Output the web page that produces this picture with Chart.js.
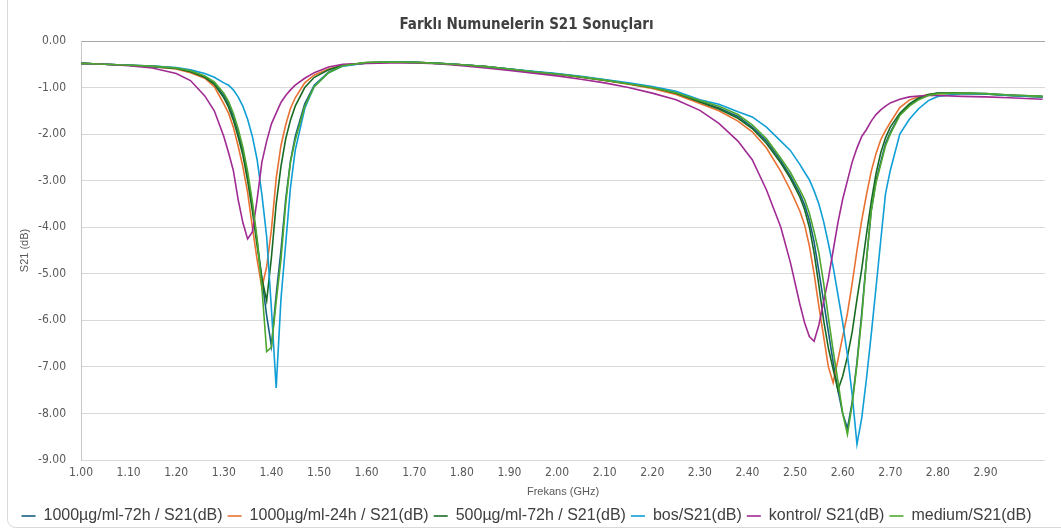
<!DOCTYPE html>
<html>
<head>
<meta charset="utf-8">
<script src="https://cdn.jsdelivr.net/npm/chart.js@4.4.1/dist/chart.umd.min.js"></script>
<style>
  html, body { margin: 0; padding: 0; background: #fff; }
  #wrap { width: 1061px; height: 531px; }
</style>
</head>
<body>
<div id="wrap"><canvas id="s21Chart" width="1061" height="531"></canvas></div>
<script>
// Frekans noktaları (GHz) - tüm seriler için ortak
const freq = [
  1.00, 1.05, 1.10, 1.15, 1.20, 1.23, 1.26, 1.28,
  1.30, 1.31, 1.32, 1.33, 1.34, 1.35, 1.36, 1.37, 1.38, 1.39, 1.40, 1.41, 1.42, 1.43, 1.44, 1.45,
  1.47, 1.49, 1.52, 1.55,
  1.60, 1.65, 1.70, 1.75, 1.80, 1.85, 1.90, 1.95, 2.00, 2.05, 2.10, 2.15, 2.20, 2.25, 2.30,
  2.34, 2.38, 2.41, 2.44, 2.47, 2.49,
  2.51, 2.52, 2.53, 2.54, 2.55, 2.56, 2.57, 2.58, 2.59, 2.60, 2.61, 2.62, 2.63, 2.64, 2.65, 2.66, 2.67, 2.68, 2.69, 2.70,
  2.72, 2.74, 2.76, 2.78, 2.80,
  2.85, 2.90, 2.95, 3.02
];

// S21 (dB) değerleri
const s21_1000_72h = [
  -0.48, -0.50, -0.52, -0.54, -0.58, -0.64, -0.76, -0.90,
  -1.17, -1.36, -1.62, -1.96, -2.36, -2.90, -3.55, -4.30, -5.10, -5.90, -6.55, -5.45, -4.50, -3.40, -2.58, -2.05,
  -1.35, -0.95, -0.67, -0.53,
  -0.47, -0.45, -0.46, -0.48, -0.51, -0.55, -0.60, -0.66, -0.71, -0.77, -0.84, -0.92, -1.00, -1.12, -1.30,
  -1.44, -1.62, -1.85, -2.15, -2.57, -2.90,
  -3.28, -3.52, -3.85, -4.32, -4.95, -5.60, -6.25, -6.90, -7.50, -8.00, -8.32, -7.75, -6.90, -5.85, -4.70, -3.65, -3.00, -2.60, -2.20, -1.96,
  -1.58, -1.38, -1.24, -1.16, -1.12,
  -1.12, -1.13, -1.16, -1.19
];

const s21_1000_24h = [
  -0.48, -0.50, -0.52, -0.55, -0.60, -0.68, -0.80, -0.98,
  -1.35, -1.55, -1.85, -2.25, -2.70, -3.25, -4.00, -4.70, -5.30, -4.85, -4.05, -2.95, -2.25, -1.80, -1.45, -1.22,
  -0.90, -0.73, -0.60, -0.52,
  -0.47, -0.45, -0.46, -0.48, -0.51, -0.55, -0.61, -0.66, -0.72, -0.78, -0.85, -0.93, -1.02, -1.15, -1.34,
  -1.50, -1.72, -1.95, -2.30, -2.80, -3.20,
  -3.65, -3.95, -4.40, -5.00, -5.70, -6.35, -7.00, -7.34, -6.85, -6.35, -5.85, -5.20, -4.50, -3.85, -3.30, -2.80, -2.42, -2.12, -1.92, -1.75,
  -1.43, -1.27, -1.19, -1.15, -1.13,
  -1.13, -1.14, -1.17, -1.20
];

const s21_500_72h = [
  -0.48, -0.50, -0.52, -0.55, -0.59, -0.66, -0.78, -0.93,
  -1.22, -1.42, -1.70, -2.05, -2.45, -3.00, -3.65, -4.40, -5.10, -5.58, -4.65, -3.50, -2.70, -2.10, -1.70, -1.40,
  -1.00, -0.78, -0.62, -0.52,
  -0.47, -0.45, -0.46, -0.48, -0.51, -0.55, -0.60, -0.66, -0.71, -0.77, -0.84, -0.92, -1.00, -1.12, -1.31,
  -1.46, -1.66, -1.88, -2.20, -2.62, -2.95,
  -3.35, -3.62, -4.00, -4.55, -5.25, -6.00, -6.60, -7.05, -7.50, -7.20, -6.78, -6.25, -5.55, -4.90, -4.15, -3.45, -2.85, -2.40, -2.08, -1.85,
  -1.55, -1.35, -1.22, -1.15, -1.12,
  -1.12, -1.14, -1.17, -1.20
];

const s21_bos = [
  -0.48, -0.50, -0.52, -0.54, -0.57, -0.62, -0.70, -0.78,
  -0.90, -0.95, -1.05, -1.20, -1.40, -1.68, -2.05, -2.55, -3.30, -4.20, -5.75, -7.45, -5.55, -4.35, -3.15, -2.35,
  -1.45, -0.97, -0.68, -0.54,
  -0.47, -0.45, -0.46, -0.48, -0.51, -0.55, -0.60, -0.65, -0.70, -0.76, -0.83, -0.90, -0.98, -1.08, -1.26,
  -1.36, -1.52, -1.63, -1.85, -2.15, -2.35,
  -2.65, -2.82, -2.98, -3.22, -3.50, -3.88, -4.35, -4.85, -5.45, -6.05, -6.75, -7.60, -8.66, -8.10, -7.25, -6.30, -5.30, -4.28, -3.28, -2.78,
  -2.00, -1.68, -1.45, -1.28, -1.19,
  -1.13, -1.14, -1.17, -1.20
];

const s21_kontrol = [
  -0.48, -0.50, -0.53, -0.58, -0.70, -0.85, -1.18, -1.50,
  -2.05, -2.40, -2.78, -3.40, -3.90, -4.25, -4.10, -3.40, -2.60, -2.15, -1.78, -1.55, -1.32, -1.17, -1.05, -0.95,
  -0.80, -0.68, -0.56, -0.50,
  -0.48, -0.47, -0.47, -0.49, -0.53, -0.58, -0.63, -0.69, -0.75, -0.82, -0.90, -1.00, -1.12, -1.26, -1.49,
  -1.77, -2.15, -2.55, -3.20, -4.00, -4.75,
  -5.65, -6.05, -6.35, -6.45, -6.10, -5.60, -5.10, -4.50, -3.90, -3.40, -3.00, -2.60, -2.30, -2.05, -1.90, -1.72, -1.58, -1.48, -1.40, -1.33,
  -1.25, -1.20, -1.18, -1.17, -1.17,
  -1.19, -1.20, -1.22, -1.25
];

const s21_medium = [
  -0.48, -0.50, -0.52, -0.54, -0.58, -0.64, -0.75, -0.88,
  -1.12, -1.30, -1.55, -1.88, -2.28, -2.80, -3.45, -4.25, -5.30, -6.67, -6.58, -5.60, -4.70, -3.50, -2.60, -2.13,
  -1.40, -0.98, -0.68, -0.53,
  -0.46, -0.45, -0.46, -0.48, -0.51, -0.55, -0.60, -0.66, -0.71, -0.77, -0.84, -0.92, -1.00, -1.11, -1.28,
  -1.40, -1.58, -1.80, -2.10, -2.52, -2.82,
  -3.20, -3.40, -3.70, -4.10, -4.55, -5.20, -5.94, -6.65, -7.30, -8.00, -8.45, -7.80, -6.95, -5.94, -4.70, -3.65, -3.05, -2.65, -2.25, -2.00,
  -1.60, -1.40, -1.26, -1.17, -1.13,
  -1.12, -1.13, -1.16, -1.19
];

const seriesNames = [
  '1000µg/ml-72h / S21(dB)',
  '1000µg/ml-24h / S21(dB)',
  '500µg/ml-72h / S21(dB)',
  'bos/S21(dB)',
  'kontrol/ S21(dB)',
  'medium/S21(dB)'
];
const seriesValues = [s21_1000_72h, s21_1000_24h, s21_500_72h, s21_bos, s21_kontrol, s21_medium];
const seriesColors = ['#156082', '#E97132', '#196B24', '#0F9ED5', '#A02B93', '#4EA72E'];

const NARROW = "'Liberation Sans Narrow', 'DejaVu Sans Condensed', 'Liberation Sans', sans-serif";
const REGULAR = "'Liberation Sans', Arial, sans-serif";

// dış çerçeve (grafik alanı kenarlığı)
const frame = {
  id: 'frame',
  beforeDraw(chart) {
    const c = chart.ctx;
    c.save();
    c.fillStyle = '#fff';
    c.fillRect(0, 0, chart.width, chart.height);
    c.strokeStyle = '#d9d9d9';
    c.lineWidth = 1;
    c.beginPath();
    c.roundRect(7.5, -10, chart.width + 20, chart.height + 10 - 3.5, 8);
    c.stroke();
    c.restore();
  }
};

const datasets = seriesNames.map((name, i) => ({
  label: name,
  data: freq.map((f, k) => ({ x: f, y: seriesValues[i][k] })),
  borderColor: seriesColors[i],
  backgroundColor: seriesColors[i],
  borderWidth: 1.6,
  pointRadius: 0,
  tension: 0,
  fill: false,
  order: seriesNames.length - 1 - i   // son seri en üstte
}));

new Chart(document.getElementById('s21Chart'), {
  type: 'line',
  data: { datasets },
  options: {
    responsive: false,
    animation: false,
    layout: { padding: { left: 8, right: 16, top: 0, bottom: -3 } },
    plugins: {
      title: {
        display: true,
        text: 'Farklı Numunelerin S21 Sonuçları',
        color: '#404040',
        font: { family: NARROW, size: 15, weight: 'bold' },
        padding: { top: 16, bottom: 7 }
      },
      legend: {
        position: 'bottom',
        labels: {
          usePointStyle: true,
          pointStyle: 'line',
          pointStyleWidth: 14,
          color: '#404040',
          font: { family: REGULAR, size: 16 },
          padding: 5,
          sort: (a, b) => a.datasetIndex - b.datasetIndex
        }
      },
      tooltip: { enabled: false }
    },
    scales: {
      x: {
        type: 'linear',
        min: 1.0,
        max: 3.025,
        grid: { display: false, drawTicks: false },
        border: { display: false },
        ticks: {
          stepSize: 0.1,
          includeBounds: false,
          autoSkip: false,
          maxRotation: 0,
          padding: 6,
          color: '#595959',
          font: { family: NARROW, size: 12 },
          callback: (v) => (v < 2.95 ? Number(v).toFixed(2) : '')
        },
        title: {
          display: true,
          text: 'Frekans (GHz)',
          color: '#595959',
          font: { family: REGULAR, size: 11 },
          padding: { top: 0, bottom: 4 }
        },
        afterFit: (scale) => { scale.height = 43; }
      },
      y: {
        min: -9,
        max: 0,
        grid: {
          drawTicks: false,
          color: (ctx) => (ctx.tick && ctx.tick.value === 0 ? '#a6a6a6' : '#d9d9d9'),
          lineWidth: 1
        },
        border: { display: true, color: '#c8c8c8' },
        ticks: {
          stepSize: 1,
          padding: 15,
          color: '#595959',
          font: { family: NARROW, size: 12 },
          callback: (v) => Number(v).toFixed(2)
        },
        title: {
          display: true,
          text: 'S21 (dB)',
          color: '#595959',
          font: { family: REGULAR, size: 11 },
          padding: { top: 10, bottom: 0 }
        },
        afterFit: (scale) => { scale.width = 73; }
      }
    }
  },
  plugins: [frame]
});
</script>
</body>
</html>
